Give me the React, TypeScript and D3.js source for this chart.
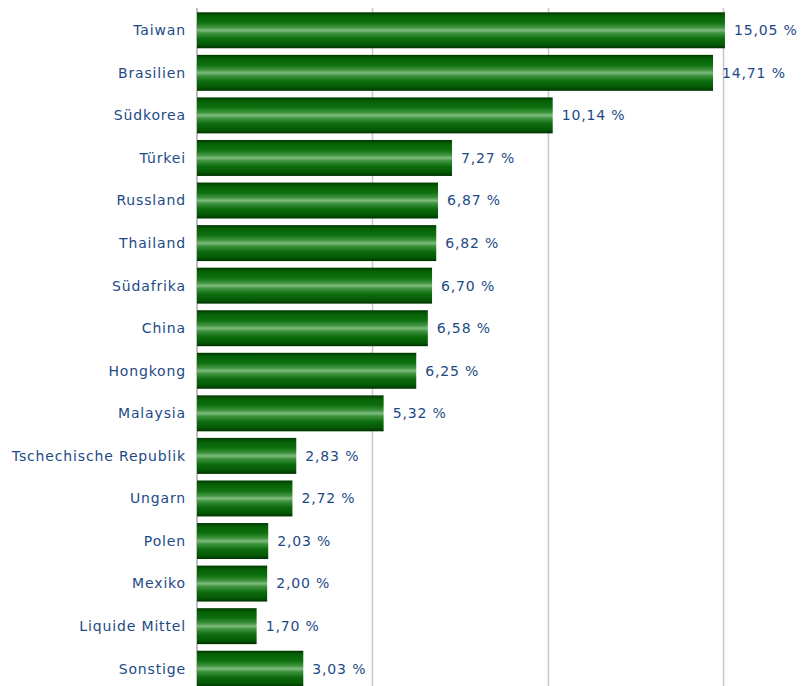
import React from "react";
import * as d3 from "d3";

const categories = [
  "Taiwan", "Brasilien", "Südkorea", "Türkei", "Russland", "Thailand", "Südafrika",
  "China", "Hongkong", "Malaysia", "Tschechische Republik", "Ungarn", "Polen",
  "Mexiko", "Liquide Mittel", "Sonstige",
];
const values = [15.05, 14.71, 10.14, 7.27, 6.87, 6.82, 6.7, 6.58, 6.25, 5.32, 2.83, 2.72, 2.03, 2.0, 1.7, 3.03];
const gridTicks = [5, 10, 15];

const W = 803;
const H = 686;

export default function App() {
  const x = d3.scaleLinear().domain([0, 20]).range([197, 898.6]);
  const y = d3
    .scaleBand<string>()
    .domain(categories)
    .range([9, 690])
    .paddingInner(0.155)
    .paddingOuter(0.0775);
  const fmt = (v: number) => v.toFixed(2).replace(".", ",") + " %";
  const font = "DejaVu Sans, Verdana, sans-serif";
  const textColor = "#1d4a86";
  return (
    <div style={{ position: "absolute", left: 0, top: 0 }}>
      <svg width={W} height={H} style={{ display: "block", background: "#fff" }}>
        <defs>
          <linearGradient id="barGrad" x1="0" y1="0" x2="0" y2="1">
            <stop offset="0" stopColor="#003800" />
            <stop offset="0.1" stopColor="#066006" />
            <stop offset="0.28" stopColor="#0e700e" />
            <stop offset="0.42" stopColor="#3f943f" />
            <stop offset="0.5" stopColor="#80bc80" />
            <stop offset="0.58" stopColor="#3f943f" />
            <stop offset="0.74" stopColor="#0c6c0c" />
            <stop offset="0.9" stopColor="#055805" />
            <stop offset="1" stopColor="#003200" />
          </linearGradient>
        </defs>
        {gridTicks.map((t) => (
          <line
            key={t}
            x1={Math.round(x(t)) + 0.5}
            x2={Math.round(x(t)) + 0.5}
            y1={8}
            y2={H}
            stroke="#c8c8c8"
            strokeWidth={1.5}
          />
        ))}
        <line x1={197} x2={197} y1={8} y2={H} stroke="#c0c0c0" strokeWidth={2} />
        {categories.map((c, i) => {
          const by = y(c)!;
          const bh = y.bandwidth();
          const cy = by + bh / 2;
          return (
            <g key={c}>
              <rect x={x(0)} y={by} width={x(values[i]) - x(0)} height={bh} fill="url(#barGrad)" />
              <text
                x={186}
                y={cy}
                dy="0.35em"
                textAnchor="end"
                fontFamily={font}
                fontSize={14}
                letterSpacing={0.85}
                fill={textColor}
              >
                {c}
              </text>
              <text
                x={x(values[i]) + 9}
                y={cy}
                dy="0.35em"
                fontFamily={font}
                fontSize={14}
                letterSpacing={0.85}
                fill={textColor}
              >
                {fmt(values[i])}
              </text>
            </g>
          );
        })}
      </svg>
    </div>
  );
}
